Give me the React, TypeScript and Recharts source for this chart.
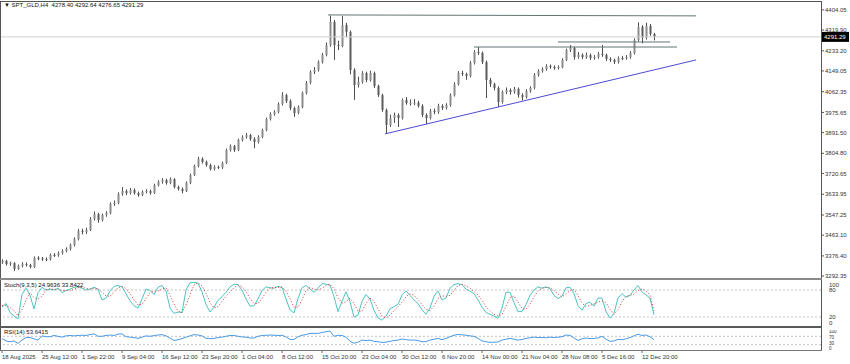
import React from 'react'
import { ComposedChart, LineChart, Line, Bar, XAxis, YAxis, ReferenceLine } from 'recharts'

const FONT = "'Liberation Sans', Arial, sans-serif"

// time scale labels, one every 10 candles
const timeLabels = ['18 Aug 2025', '25 Aug 12:00', '1 Sep 22:00', '9 Sep 04:00', '16 Sep 12:00', '23 Sep 20:00', '1 Oct 04:00', '8 Oct 12:00', '15 Oct 20:00', '23 Oct 04:00', '30 Oct 12:00', '6 Nov 20:00', '14 Nov 00:00', '21 Nov 04:00', '28 Nov 08:00', '5 Dec 16:00', '12 Dec 20:00']

const priceTicks = [4404.05, 4319.9, 4233.2, 4149.05, 4062.35, 3975.65, 3891.5, 3804.8, 3720.65, 3633.95, 3547.25, 3463.1, 3376.4, 3292.35]

const open = [
  3350, 3355, 3342, 3346, 3322, 3334, 3342, 3338, 3330, 3368,
  3366, 3363, 3362, 3380, 3379, 3388, 3397, 3405, 3422, 3447,
  3480, 3476, 3485, 3530, 3551, 3526, 3547, 3555, 3593, 3597,
  3635, 3647, 3639, 3652, 3639, 3631, 3643, 3647, 3639, 3672,
  3685, 3693, 3681, 3697, 3664, 3656, 3647, 3681, 3714, 3752,
  3781, 3769, 3756, 3739, 3748, 3746, 3764, 3819, 3835, 3818,
  3860, 3873, 3881, 3865, 3852, 3873, 3902, 3948, 3969, 3977,
  4011, 4048, 4023, 3994, 3973, 3998, 4057, 4099, 4145, 4153,
  4186, 4216, 4257, 4354, 4257, 4253, 4341, 4312, 4153, 4090,
  4103, 4140, 4111, 4140, 4086, 4048, 3986, 3923, 3952, 3965,
  3952, 4028, 4015, 4015, 4016, 4003, 3965, 3952, 3982, 3977,
  4003, 3994, 4007, 4048, 4094, 4140, 4136, 4128, 4182, 4228,
  4224, 4186, 4111, 4094, 4078, 4019, 4061, 4069, 4061, 4074,
  4048, 4040, 4065, 4078, 4132, 4149, 4157, 4170, 4166, 4161,
  4165, 4195, 4236, 4245, 4207, 4216, 4207, 4215, 4203, 4207,
  4220, 4216, 4199, 4195, 4186, 4203, 4202, 4207, 4224, 4278,
  4333, 4287, 4337, 4303,
]
const high = [
  3362, 3360, 3352, 3350, 3340, 3350, 3349, 3343, 3374, 3375,
  3372, 3370, 3386, 3388, 3395, 3404, 3412, 3428, 3454, 3488,
  3490, 3494, 3538, 3562, 3556, 3553, 3563, 3600, 3608, 3642,
  3664, 3654, 3660, 3658, 3645, 3650, 3655, 3653, 3678, 3692,
  3701, 3699, 3704, 3701, 3670, 3662, 3688, 3720, 3758, 3790,
  3788, 3775, 3762, 3755, 3754, 3770, 3825, 3842, 3840, 3866,
  3880, 3890, 3886, 3872, 3880, 3908, 3954, 3976, 3985, 4018,
  4060, 4054, 4030, 4000, 4005, 4063, 4107, 4152, 4165, 4193,
  4224, 4268, 4381, 4362, 4275, 4379, 4350, 4318, 4160, 4125,
  4148, 4146, 4150, 4146, 4092, 4054, 3992, 3966, 3975, 3972,
  4034, 4040, 4030, 4032, 4024, 4010, 3972, 3990, 3992, 4012,
  4010, 4014, 4055, 4102, 4148, 4150, 4142, 4190, 4236, 4249,
  4230, 4192, 4120, 4100, 4085, 4068, 4080, 4076, 4082, 4080,
  4056, 4072, 4085, 4140, 4156, 4164, 4177, 4176, 4172, 4172,
  4202, 4242, 4257, 4250, 4228, 4222, 4226, 4222, 4215, 4228,
  4257, 4222, 4206, 4200, 4210, 4212, 4215, 4232, 4285, 4352,
  4340, 4350, 4345, 4308,
]
const low = [
  3343, 3336, 3335, 3313, 3318, 3328, 3332, 3324, 3326, 3358,
  3355, 3354, 3357, 3372, 3373, 3382, 3391, 3399, 3416, 3441,
  3466, 3468, 3480, 3524, 3515, 3520, 3540, 3550, 3585, 3592,
  3628, 3630, 3633, 3632, 3624, 3626, 3637, 3632, 3635, 3666,
  3678, 3674, 3676, 3658, 3649, 3638, 3643, 3676, 3710, 3746,
  3762, 3749, 3733, 3733, 3739, 3740, 3760, 3812, 3810, 3814,
  3854, 3866, 3857, 3826, 3846, 3868, 3897, 3942, 3962, 3972,
  4005, 4015, 3985, 3957, 3968, 3993, 4051, 4093, 4136, 4146,
  4180, 4210, 4250, 4195, 4236, 4248, 4290, 4135, 4028, 4080,
  4096, 4102, 4105, 4078, 4040, 3978, 3886, 3915, 3932, 3915,
  3946, 4008, 4004, 4006, 3996, 3956, 3927, 3946, 3968, 3970,
  3986, 3988, 4000, 4042, 4088, 4128, 4112, 4122, 4176, 4215,
  4178, 4036, 4082, 4068, 3999, 4012, 4052, 4050, 4054, 4038,
  4026, 4034, 4058, 4072, 4125, 4142, 4150, 4158, 4154, 4155,
  4160, 4190, 4228, 4196, 4200, 4198, 4200, 4195, 4196, 4200,
  4208, 4190, 4186, 4178, 4180, 4194, 4196, 4200, 4218, 4272,
  4264, 4280, 4296, 4276.65,
]
const close = [
  3355, 3342, 3346, 3322, 3334, 3342, 3338, 3330, 3368, 3366,
  3363, 3362, 3380, 3379, 3388, 3397, 3405, 3422, 3447, 3480,
  3476, 3485, 3530, 3551, 3526, 3547, 3555, 3593, 3597, 3635,
  3647, 3639, 3652, 3639, 3631, 3643, 3647, 3639, 3672, 3685,
  3693, 3681, 3697, 3664, 3656, 3647, 3681, 3714, 3752, 3781,
  3769, 3756, 3739, 3748, 3746, 3764, 3819, 3835, 3818, 3860,
  3873, 3881, 3865, 3852, 3873, 3902, 3948, 3969, 3977, 4011,
  4048, 4023, 3994, 3973, 3998, 4057, 4099, 4145, 4153, 4186,
  4216, 4257, 4354, 4257, 4253, 4341, 4312, 4153, 4090, 4103,
  4140, 4111, 4140, 4086, 4048, 3986, 3923, 3952, 3965, 3952,
  4028, 4015, 4015, 4016, 4003, 3965, 3952, 3982, 3977, 4003,
  3994, 4007, 4048, 4094, 4140, 4136, 4128, 4182, 4228, 4224,
  4186, 4111, 4094, 4078, 4019, 4061, 4069, 4061, 4074, 4048,
  4040, 4065, 4078, 4132, 4149, 4157, 4170, 4166, 4161, 4165,
  4195, 4236, 4245, 4207, 4216, 4207, 4215, 4203, 4207, 4220,
  4216, 4199, 4195, 4186, 4203, 4202, 4207, 4224, 4278, 4333,
  4287, 4337, 4303, 4291.29,
]

const stochMain = [
  42, 50, 30, 22, 16, 70, 84, 68, 38, 74,
  86, 80, 82, 80, 84, 74, 79, 82, 86, 87,
  84, 80, 82, 86, 82, 58, 62, 78, 88, 90,
  87, 72, 56, 45, 40, 60, 82, 79, 70, 86,
  90, 78, 40, 28, 31, 30, 80, 96, 97, 95,
  76, 48, 31, 42, 57, 65, 75, 87, 93, 92,
  80, 60, 44, 45, 60, 79, 87, 85, 84, 88,
  86, 60, 36, 29, 61, 85, 90, 82, 75, 84,
  94, 93, 91, 65, 32, 55, 76, 54, 20, 24,
  55, 70, 60, 35, 18, 13, 22, 38, 43, 48,
  69, 78, 68, 58, 50, 36, 26, 40, 66, 78,
  58, 62, 84, 92, 94, 92, 82, 77, 72, 58,
  42, 30, 26, 22, 17, 40, 75, 75, 52, 32,
  32, 48, 68, 80, 87, 84, 87, 83, 68, 61,
  66, 85, 86, 72, 45, 35, 50, 53, 44, 62,
  62, 32, 18, 28, 62, 72, 64, 68, 80, 90,
  76, 69, 62, 24.96,
]
const stochSignal = [
  45, 46, 41, 34, 23, 36, 57, 74, 63, 60,
  66, 80, 83, 81, 82, 79, 79, 78, 82, 85,
  86, 84, 82, 83, 83, 75, 67, 66, 76, 85,
  88, 83, 72, 58, 47, 48, 61, 74, 77, 78,
  82, 85, 69, 49, 33, 30, 47, 69, 91, 96,
  89, 73, 52, 40, 43, 55, 66, 76, 85, 91,
  88, 77, 61, 50, 50, 61, 75, 84, 85, 86,
  86, 78, 61, 42, 42, 58, 79, 86, 82, 80,
  84, 90, 93, 83, 63, 51, 54, 62, 50, 33,
  33, 50, 62, 55, 38, 22, 18, 24, 34, 43,
  53, 65, 72, 68, 59, 48, 37, 34, 44, 61,
  67, 66, 68, 79, 90, 93, 89, 84, 77, 69,
  57, 43, 33, 26, 22, 26, 44, 63, 67, 53,
  39, 37, 49, 65, 78, 84, 86, 85, 79, 71,
  65, 71, 79, 81, 68, 51, 43, 46, 49, 53,
  56, 52, 37, 26, 36, 54, 66, 68, 71, 79,
  82, 78, 69, 33.84,
]
const rsi = [
  59, 48, 44, 48, 36, 52, 64, 64, 58, 52,
  72, 68, 68, 74, 70, 66, 72, 74, 72, 74,
  75, 74, 78, 82, 70, 70, 74, 76, 74, 80,
  82, 68, 66, 64, 60, 66, 72, 70, 73, 76,
  78, 72, 62, 50, 54, 59, 66, 72, 78, 76,
  72, 60, 59, 60, 64, 66, 70, 74, 74, 70,
  67, 66, 62, 62, 70, 74, 75, 76, 75, 74,
  75, 67, 55, 55, 68, 75, 78, 84, 84, 84,
  88, 92, 95, 70, 75, 74, 66, 46, 37, 42,
  52, 50, 52, 46, 44, 41, 42, 46, 50, 52,
  57, 54, 52, 52, 50, 44, 45, 52, 56, 60,
  54, 60, 68, 75, 79, 77, 75, 72, 70, 60,
  48, 44, 41, 42, 43, 52, 56, 60, 56, 52,
  55, 60, 63, 66, 64, 64, 63, 66, 64, 66,
  68, 76, 74, 62, 50, 58, 62, 59, 60, 62,
  70, 56, 46, 48, 55, 54, 58, 64, 72, 80,
  74, 76, 68, 53.64,
]

const rows = close.map((c, i) => ({
  i,
  open: open[i],
  high: high[i],
  low: low[i],
  close: c,
  range: [low[i], high[i]],
  k: stochMain[i],
  d: stochSignal[i],
  rsi: rsi[i],
}))

const X_DOMAIN = [-0.25, 204.75]
const timeTicks = timeLabels.map((_, n) => n * 10)

const Candle = (props: any) => {
  const { x, y, width, height, payload } = props
  if (!payload || height == null) return null
  const top = height < 0 ? y + height : y
  const h = Math.abs(height)
  const k = h / (payload.high - payload.low || 1)
  const cx = Math.round(x + width / 2) + 0.5
  const yo = top + (payload.high - payload.open) * k
  const yc = top + (payload.high - payload.close) * k
  const up = payload.close >= payload.open
  return (
    <g>
      <line x1={cx} x2={cx} y1={top} y2={top + h} stroke="#4e4e4e" strokeWidth={1} />
      <rect x={cx - 1} y={Math.min(yo, yc)} width={2} height={Math.max(Math.abs(yc - yo), 1)} fill={up ? '#8c8c8c' : '#5c5c5c'} />
    </g>
  )
}

const BidLabel = (props: any) => {
  const { viewBox } = props
  if (!viewBox) return null
  const x = viewBox.x + viewBox.width + 1
  const y = viewBox.y
  return (
    <g>
      <rect x={x} y={y - 5} width={27} height={10} fill="#000" />
      <text x={x + 2} y={y + 2.5} fontSize={6} fill="#fff" fontFamily={FONT}>4291.29</text>
    </g>
  )
}

const levelTick = (shift: Record<number, number>, size: number) => (props: any) => {
  const { x, y, payload } = props
  return (
    <text x={x} y={y + (shift[payload.value] ?? 0)} dy="0.35em" fontSize={size} fill="#333" fontFamily={FONT}>
      {payload.value}
    </text>
  )
}

const TimeTick = (props: any) => {
  const { x, y, payload, index } = props
  return (
    <text x={x} y={y + 4} fontSize={6} fill="#333" fontFamily={FONT}>
      {timeLabels[index] ?? timeLabels[payload.value / 10]}
    </text>
  )
}

const line = (style: React.CSSProperties) => <div style={{ position: 'absolute', ...style }} />

export default function App() {
  return (
    <div style={{ position: 'absolute', left: 0, top: 0, width: 850, height: 364, background: '#fff', overflow: 'hidden', fontFamily: FONT }}>
      {/* price window */}
      <div style={{ position: 'absolute', left: 0, top: 0 }}>
        <ComposedChart width={850} height={280} data={rows} margin={{ top: 2, right: 0, bottom: 2, left: 1 }}>
          <XAxis type="number" dataKey="i" domain={X_DOMAIN} hide allowDataOverflow />
          <YAxis
            orientation="right"
            width={29}
            domain={[3284, 4437]}
            ticks={priceTicks}
            interval={0}
            allowDataOverflow
            axisLine={false}
            tickSize={3}
            tickMargin={1}
            tickLine={{ stroke: '#555' }}
            tick={{ fontSize: 6, fill: '#333', fontFamily: FONT }}
            tickFormatter={(v: number) => v.toFixed(2)}
          />
          <ReferenceLine y={4291.29} stroke="#cfcfcf" strokeWidth={1} label={<BidLabel />} />
          <Bar dataKey="range" barSize={3} shape={<Candle />} isAnimationActive={false} />
          <ReferenceLine segment={[{ x: 81.5, y: 4383 }, { x: 173.5, y: 4379 }]} stroke="#627575" />
          <ReferenceLine segment={[{ x: 118, y: 4249 }, { x: 168.75, y: 4249 }]} stroke="#627575" />
          <ReferenceLine segment={[{ x: 139, y: 4270 }, { x: 167, y: 4270 }]} stroke="#627575" />
          <ReferenceLine segment={[{ x: 95.75, y: 3886 }, { x: 173.5, y: 4195 }]} stroke="#4b4bd2" />
        </ComposedChart>
      </div>

      {/* stochastic window */}
      <div style={{ position: 'absolute', left: 0, top: 281 }}>
        <LineChart width={850} height={45} data={rows} margin={{ top: 0, right: 0, bottom: 0, left: 1 }}>
          <XAxis type="number" dataKey="i" domain={X_DOMAIN} hide allowDataOverflow />
          <YAxis orientation="right" width={29} domain={[0, 100]} ticks={[0, 20, 80, 100]} interval={0} axisLine={false} tickLine={false} tickMargin={2} tick={levelTick({ 100: 3.5, 0: -3.5 }, 6)} />
          <ReferenceLine y={80} stroke="#c4c4c4" strokeDasharray="2 2" />
          <ReferenceLine y={20} stroke="#c4c4c4" strokeDasharray="2 2" />
          <Line dataKey="k" stroke="#4cc4c0" strokeWidth={1} dot={false} isAnimationActive={false} />
          <Line dataKey="d" stroke="#d03a3a" strokeWidth={1} strokeDasharray="1 2" dot={false} isAnimationActive={false} />
        </LineChart>
      </div>

      {/* RSI window + time scale */}
      <div style={{ position: 'absolute', left: 0, top: 330 }}>
        <LineChart width={850} height={34} data={rows} margin={{ top: 0, right: 0, bottom: 0, left: 1 }}>
          <XAxis
            type="number"
            dataKey="i"
            domain={X_DOMAIN}
            allowDataOverflow
            ticks={timeTicks}
            interval={0}
            height={13}
            axisLine={false}
            tickSize={2}
            tickLine={{ stroke: '#666' }}
            tick={<TimeTick />}
          />
          <YAxis orientation="right" width={29} domain={[0, 100]} ticks={[0, 30, 70, 100]} interval={0} axisLine={false} tickLine={false} tickMargin={2} tick={levelTick({ 100: 1, 70: 0.8, 30: -1.6, 0: -2.4 }, 4.6)} />
          <ReferenceLine y={70} stroke="#c4c4c4" strokeDasharray="2 2" />
          <ReferenceLine y={30} stroke="#c4c4c4" strokeDasharray="2 2" />
          <Line dataKey="rsi" stroke="#4a9be6" strokeWidth={1} dot={false} isAnimationActive={false} />
        </LineChart>
      </div>

      {/* window frames and separators */}
      {line({ left: 0, top: 1, width: 822, height: 1, background: '#555' })}
      {line({ left: 0, top: 1, width: 1, height: 350, background: '#555' })}
      {line({ left: 821, top: 1, width: 1, height: 350, background: '#555' })}
      {line({ left: 0, top: 278, width: 822, height: 2, background: '#8a8a8a' })}
      {line({ left: 0, top: 326, width: 822, height: 2, background: '#5a5a5a' })}
      {line({ left: 0, top: 350, width: 822, height: 1, background: '#777' })}

      {/* window captions */}
      <div style={{ position: 'absolute', left: 4, top: 2, fontSize: 6, color: '#111', whiteSpace: 'pre' }}>▼ SPT_GLD,H4  4278.40 4292.64 4276.65 4291.29</div>
      <div style={{ position: 'absolute', left: 4, top: 282, fontSize: 6, color: '#111', whiteSpace: 'pre' }}>Stoch(9,3,5) 24.9636 33.8422</div>
      <div style={{ position: 'absolute', left: 4, top: 329, fontSize: 6, color: '#111', whiteSpace: 'pre' }}>RSI(14) 53.6415</div>
    </div>
  )
}
